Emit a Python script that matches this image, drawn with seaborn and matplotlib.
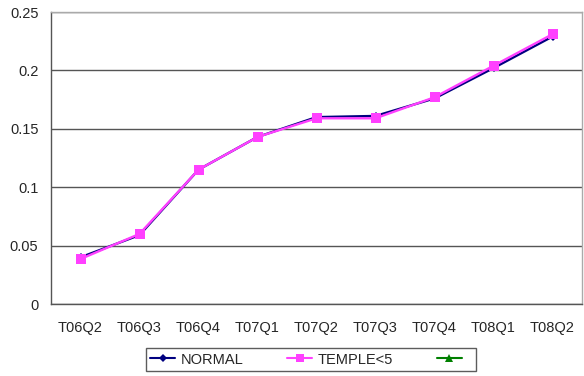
import matplotlib
matplotlib.use("Agg")
import matplotlib.pyplot as plt
import seaborn as sns
import pandas as pd
import numpy as np
from matplotlib.lines import Line2D

categories = ["T06Q2", "T06Q3", "T06Q4", "T07Q1", "T07Q2", "T07Q3", "T07Q4", "T08Q1", "T08Q2"]
normal = [0.040, 0.059, 0.115, 0.143, 0.160, 0.161, 0.176, 0.202, 0.229]
temple = [0.0385, 0.060, 0.115, 0.143, 0.159, 0.159, 0.177, 0.204, 0.231]
series_names = ["NORMAL", "TEMPLE<5", " "]
yticks = [0, 0.05, 0.1, 0.15, 0.2, 0.25]
ytick_labels = ["0", "0.05", "0.1", "0.15", "0.2", "0.25"]

sns.set_style("white")
plt.rcParams['font.family'] = ['Liberation Sans', 'DejaVu Sans']

df = pd.DataFrame({
    "x": list(range(len(categories))) * 2,
    "y": normal + temple,
    "s": [series_names[0]] * len(normal) + [series_names[1]] * len(temple),
})

fig = plt.figure(figsize=(5.84, 3.76), dpi=100)
ax = fig.add_axes([51/584, 1 - 304/376, 531/584, 292/376])

colors = {"NORMAL": "#000080", "TEMPLE<5": "#FF40FF"}
sns.lineplot(data=df[df.s == "NORMAL"], x="x", y="y", color=colors["NORMAL"], marker="D",
             markersize=4, linewidth=1.7, ax=ax, legend=False, markeredgewidth=0, zorder=3)
sns.lineplot(data=df[df.s == "TEMPLE<5"], x="x", y="y", color=colors["TEMPLE<5"], marker="s",
             markersize=7, linewidth=1.7, ax=ax, legend=False, markeredgewidth=0, zorder=4)

ax.set_xlim(-0.5, len(categories) - 0.5)
ax.set_ylim(0, 0.25)
ax.set_yticks(yticks)
ax.set_yticklabels(ytick_labels, fontsize=10.5)
ax.set_xticks(range(len(categories)))
ax.set_xticklabels(categories, fontsize=10.5)
ax.tick_params(axis="x", length=0, pad=12)
ax.tick_params(axis="y", length=0, pad=9)
ax.set_xticks(np.arange(-0.5, len(categories), 1), minor=True)
ax.tick_params(axis="x", which="minor", length=4, direction="in", color="#555555")
ax.set_xlabel("")
ax.set_ylabel("")
ax.yaxis.grid(True, color="#555555", linewidth=1)
ax.set_axisbelow(True)
for side in ["left", "bottom"]:
    ax.spines[side].set_color("#555555")
    ax.spines[side].set_linewidth(1)
for side in ["top", "right"]:
    ax.spines[side].set_color("#aaaaaa")
    ax.spines[side].set_linewidth(1)

handles = [
    Line2D([], [], color="#000080", marker="D", markersize=4, linewidth=1.5, markeredgewidth=0),
    Line2D([], [], color="#FF40FF", marker="s", markersize=6, linewidth=1.5, markeredgewidth=0),
    Line2D([], [], color="#008000", marker="^", markersize=6, linewidth=1.5, markeredgewidth=0),
]
leg = fig.legend(handles, series_names, loc="center", bbox_to_anchor=(311/584, 1 - 359.5/376),
                 ncol=3, frameon=True, fancybox=False, fontsize=10.5, handlelength=1.7,
                 columnspacing=3.0, borderpad=0.3, handletextpad=0.4, borderaxespad=0)
leg.get_frame().set_edgecolor("#333333")
leg.get_frame().set_linewidth(1)

fig.savefig("out.png", dpi=100)
